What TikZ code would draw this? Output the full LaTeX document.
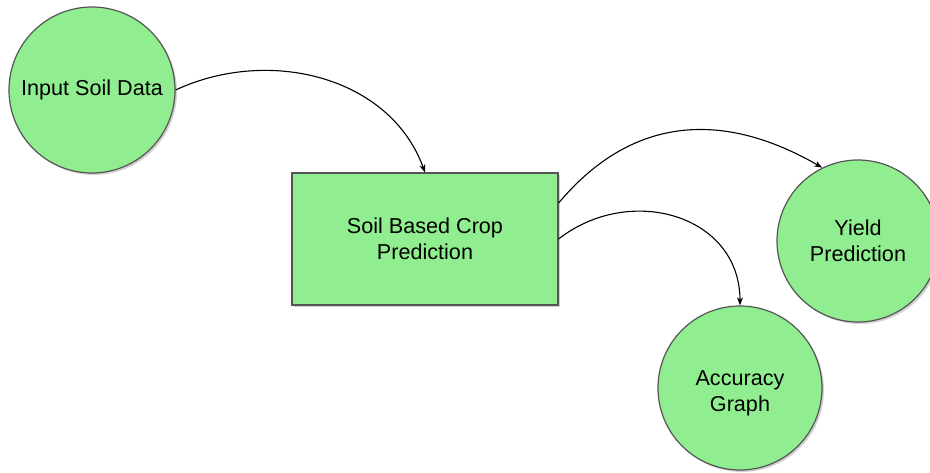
\documentclass[tikz,border=0pt]{standalone}
\usepackage{fontspec}
\setmainfont{Liberation Sans}
\usetikzlibrary{arrows.meta,shadows,calc}

\definecolor{leaf}{HTML}{90EE90}
\definecolor{rim}{HTML}{555555}

\tikzset{
  blob/.style={circle, draw=rim, line width=1.2pt, fill=leaf,
    drop shadow={shadow xshift=2pt, shadow yshift=-2pt, opacity=0.18, fill=black},
    inner sep=0pt, align=center,
    font=\fontsize{21.6}{26.5}\selectfont},
  panel/.style={rectangle, draw=rim, line width=1.2pt, fill=leaf,
    drop shadow={shadow xshift=2pt, shadow yshift=-2pt, opacity=0.18, fill=black},
    inner sep=0pt, align=center,
    font=\fontsize{21.6}{26.5}\selectfont},
  flow/.style={draw=black, line width=1.1pt,
    -{Stealth[length=8pt,width=6pt,inset=2.5pt]}}
}

\begin{document}
\begin{tikzpicture}[x=1pt,y=1pt]
  \useasboundingbox (0,0) rectangle (930,472);
  \clip (0,0) rectangle (930,472);

  % stages of the pipeline
  \node[blob, minimum size=166pt] (inp) at (92,382) {Input Soil Data};
  \node[panel, minimum width=266pt, minimum height=132pt] (pred) at (425,233)
    {Soil Based Crop\\Prediction};
  \node[blob, minimum size=162pt] (yld) at (858,231) {Yield\\Prediction};
  \node[blob, minimum size=164pt] (acc) at (740,84) {};
  \node[align=center, font=\fontsize{21.6}{26.5}\selectfont] (acctext)
    at ([yshift=-5.5pt]acc.center) {Accuracy\\Graph};

  % exit point on the upper part of the prediction box
  \coordinate (predhi) at ($(pred.north east)!0.23!(pred.south east)$);

  % connectors
  \draw[flow] (inp.east) to[out=25, in=110] (pred.north);
  \draw[flow] (predhi) to[out=50, in=150, looseness=1.1] (yld.116);
  \draw[flow] (pred.east) to[out=38, in=90, looseness=1.2] (acc.north);
\end{tikzpicture}
\end{document}
